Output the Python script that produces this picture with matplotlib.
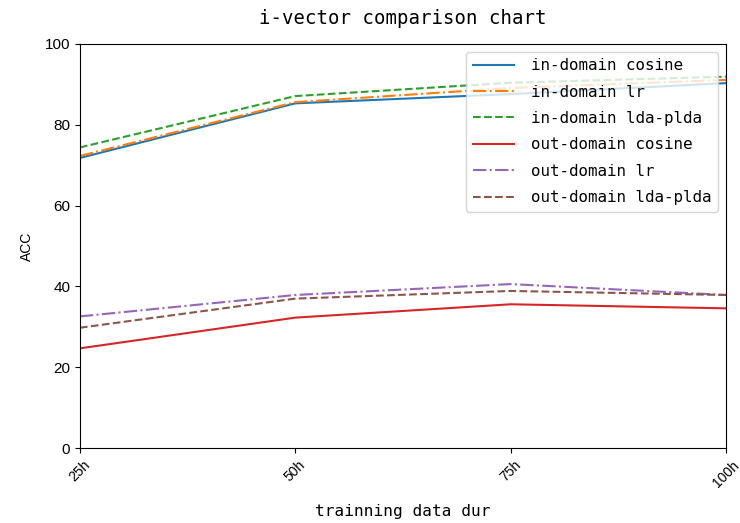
import matplotlib.pyplot as plt

durations = ["25h", "50h", "75h", "100h"]

in_cosine = [71.8, 85.3, 87.6, 90.3]
in_lr = [72.3, 85.6, 89.1, 91.1]
in_plda = [74.4, 87.1, 90.4, 91.9]
out_cosine = [24.7, 32.3, 35.6, 34.6]
out_lr = [32.6, 37.9, 40.6, 37.9]
out_plda = [29.8, 37.0, 38.9, 37.9]

mono = "DejaVu Sans Mono"


def main():
    fig = plt.figure(figsize=(7.4, 5.23), dpi=100)
    ax = fig.add_axes([0.108, 0.143, 0.873, 0.773])
    x = range(len(durations))

    ax.plot(x, in_cosine, "-", color="C0", label="in-domain cosine")
    ax.plot(x, in_lr, "-.", color="C1", label="in-domain lr")
    ax.plot(x, in_plda, "--", color="C2", label="in-domain lda-plda")
    ax.plot(x, out_cosine, "-", color="C3", label="out-domain cosine")
    ax.plot(x, out_lr, "-.", color="C4", label="out-domain lr")
    ax.plot(x, out_plda, "--", color="C5", label="out-domain lda-plda")

    ax.set_xlim(0, len(durations) - 1)
    ax.set_ylim(0, 100)
    ax.set_xticks(list(x))
    ax.set_xticklabels(durations, rotation=45, family="Liberation Sans", fontsize=10)
    for lab in ax.get_yticklabels():
        lab.set_family("Liberation Sans")
        lab.set_fontsize(11)

    ax.set_title("i-vector comparison chart", family=mono, fontsize=13.7, pad=14)
    ax.set_xlabel("trainning data dur", family=mono, fontsize=11.6, labelpad=10)
    ax.set_ylabel("ACC", family="Liberation Sans", fontsize=10, labelpad=8)
    ax.legend(loc="upper right", prop={"family": mono, "size": 11.4},
              labelspacing=0.72, handlelength=2.6, handletextpad=1.1)

    fig.savefig("out.png", dpi=100)


if __name__ == "__main__":
    main()
